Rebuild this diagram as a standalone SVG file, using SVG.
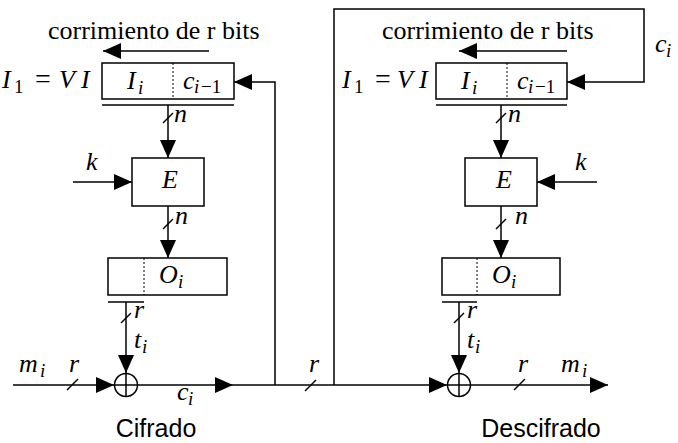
<svg xmlns="http://www.w3.org/2000/svg" width="678" height="443" viewBox="0 0 678 443">
<defs>
<marker id="ah" markerUnits="userSpaceOnUse" markerWidth="18" markerHeight="16" refX="18" refY="8" orient="auto">
<path d="M0,0 L18,8 L0,16 z" fill="#000"/>
</marker>
</defs>
<g id="connectors" stroke="#000" stroke-width="1.5" fill="none">
<g marker-end="url(#ah)">
<line x1="209" y1="51" x2="103" y2="51"/>
<line x1="168" y1="105" x2="168" y2="158"/>
<line x1="73" y1="182" x2="132" y2="182"/>
<line x1="168" y1="206" x2="168" y2="258"/>
<line x1="126" y1="302" x2="126" y2="373"/>
<line x1="13" y1="385" x2="114" y2="385"/>
<line x1="138" y1="385" x2="233" y2="385"/>
<line x1="233" y1="385" x2="447" y2="385"/>
<polyline points="275,385 275,82 234,82"/>
<polyline points="334,385 334,9 644,9 644,82 567,82"/>
<line x1="567" y1="51" x2="459" y2="51"/>
<line x1="501" y1="105" x2="501" y2="158"/>
<line x1="597" y1="182" x2="537" y2="182"/>
<line x1="501" y1="206" x2="501" y2="258"/>
<line x1="459" y1="302" x2="459" y2="373"/>
<line x1="471" y1="385" x2="608" y2="385"/>
</g>
<line x1="163" y1="123" x2="173" y2="113"/>
<line x1="163" y1="229" x2="173" y2="219"/>
<line x1="121" y1="323" x2="131" y2="313"/>
<line x1="67" y1="390" x2="78" y2="379"/>
<line x1="305" y1="391" x2="316" y2="380"/>
<line x1="496" y1="123" x2="506" y2="113"/>
<line x1="496" y1="229" x2="506" y2="219"/>
<line x1="454" y1="323" x2="464" y2="313"/>
<line x1="514" y1="390" x2="525" y2="379"/>
</g>
<g id="reg-left">
<rect x="102" y="63" width="132" height="36" fill="#fff" stroke="#000" stroke-width="1.5"/>
<line x1="173" y1="63" x2="173" y2="99" stroke="#000" stroke-width="1" stroke-dasharray="2,2"/>
<line x1="102" y1="105" x2="234" y2="105" stroke="#000" stroke-width="1.5"/>
<text x="127" y="89" font-family="Liberation Serif" font-style="italic" font-size="26">I</text>
<text x="138" y="94" font-family="Liberation Serif" font-style="italic" font-size="19">i</text>
<text x="183" y="89" font-family="Liberation Serif" font-style="italic" font-size="26">c</text>
<text x="194" y="93" font-family="Liberation Serif" font-style="italic" font-size="19">i</text>
<text x="201" y="93" font-family="Liberation Serif" font-size="19">&#8722;1</text>
</g>
<g id="iv-left">
<text x="2" y="88" font-family="Liberation Serif" font-style="italic" font-size="26">I</text>
<text x="14" y="93" font-family="Liberation Serif" font-size="19">1</text>
<text x="35" y="88" font-family="Liberation Serif" font-size="28">=</text>
<text x="59" y="88" font-family="Liberation Serif" font-style="italic" font-size="26">V</text>
<text x="81" y="88" font-family="Liberation Serif" font-style="italic" font-size="26">I</text>
</g>
<g id="shift-left"><text x="48" y="39" font-family="Liberation Serif" font-size="26">corrimiento de r bits</text></g>
<g id="E-left">
<rect x="132" y="158" width="72" height="48" fill="#fff" stroke="#000" stroke-width="1.5"/>
<text x="162" y="188" font-family="Liberation Serif" font-style="italic" font-size="26">E</text>
</g>
<g id="O-left">
<rect x="108" y="258" width="119" height="37" fill="#fff" stroke="#000" stroke-width="1.5"/>
<line x1="144" y1="258" x2="144" y2="295" stroke="#000" stroke-width="1" stroke-dasharray="2,2"/>
<line x1="108" y1="302" x2="144" y2="302" stroke="#000" stroke-width="1.5"/>
<text x="159" y="283" font-family="Liberation Serif" font-style="italic" font-size="26">O</text>
<text x="178" y="288" font-family="Liberation Serif" font-style="italic" font-size="19">i</text>
</g>
<g id="xor-left" stroke="#000" stroke-width="1.5" fill="none">
<circle cx="126" cy="385" r="11.5"/>
<line x1="126" y1="373.5" x2="126" y2="396.5"/>
<line x1="114.5" y1="385" x2="137.5" y2="385"/>
</g>
<g id="labels-left">
<text x="174" y="122" font-family="Liberation Serif" font-style="italic" font-size="26">n</text>
<text x="86" y="170" font-family="Liberation Serif" font-style="italic" font-size="26">k</text>
<text x="175" y="224" font-family="Liberation Serif" font-style="italic" font-size="26">n</text>
<text x="134" y="318" font-family="Liberation Serif" font-style="italic" font-size="26">r</text>
<text x="134" y="348" font-family="Liberation Serif" font-style="italic" font-size="26">t</text>
<text x="142" y="353" font-family="Liberation Serif" font-style="italic" font-size="19">i</text>
<text x="19" y="372" font-family="Liberation Serif" font-style="italic" font-size="26">m</text>
<text x="40" y="377" font-family="Liberation Serif" font-style="italic" font-size="19">i</text>
<text x="69" y="372" font-family="Liberation Serif" font-style="italic" font-size="26">r</text>
<text x="177" y="400" font-family="Liberation Serif" font-style="italic" font-size="26">c</text>
<text x="188" y="405" font-family="Liberation Serif" font-style="italic" font-size="19">i</text>
<text x="309" y="372" font-family="Liberation Serif" font-style="italic" font-size="26">r</text>
<text x="156" y="437" font-family="Liberation Sans" font-size="25" text-anchor="middle">Cifrado</text>
</g>
<g id="reg-right">
<rect x="436" y="63" width="131" height="36" fill="#fff" stroke="#000" stroke-width="1.5"/>
<line x1="507" y1="63" x2="507" y2="99" stroke="#000" stroke-width="1" stroke-dasharray="2,2"/>
<line x1="436" y1="105" x2="567" y2="105" stroke="#000" stroke-width="1.5"/>
<text x="461" y="89" font-family="Liberation Serif" font-style="italic" font-size="26">I</text>
<text x="472" y="94" font-family="Liberation Serif" font-style="italic" font-size="19">i</text>
<text x="517" y="89" font-family="Liberation Serif" font-style="italic" font-size="26">c</text>
<text x="528" y="93" font-family="Liberation Serif" font-style="italic" font-size="19">i</text>
<text x="535" y="93" font-family="Liberation Serif" font-size="19">&#8722;1</text>
</g>
<g id="iv-right">
<text x="342" y="88" font-family="Liberation Serif" font-style="italic" font-size="26">I</text>
<text x="354" y="93" font-family="Liberation Serif" font-size="19">1</text>
<text x="375" y="88" font-family="Liberation Serif" font-size="28">=</text>
<text x="397" y="88" font-family="Liberation Serif" font-style="italic" font-size="26">V</text>
<text x="419" y="88" font-family="Liberation Serif" font-style="italic" font-size="26">I</text>
</g>
<g id="shift-right"><text x="382" y="39" font-family="Liberation Serif" font-size="26">corrimiento de r bits</text></g>
<g id="E-right">
<rect x="465" y="158" width="72" height="48" fill="#fff" stroke="#000" stroke-width="1.5"/>
<text x="496" y="188" font-family="Liberation Serif" font-style="italic" font-size="26">E</text>
</g>
<g id="O-right">
<rect x="442" y="258" width="118" height="37" fill="#fff" stroke="#000" stroke-width="1.5"/>
<line x1="477" y1="258" x2="477" y2="295" stroke="#000" stroke-width="1" stroke-dasharray="2,2"/>
<line x1="442" y1="302" x2="477" y2="302" stroke="#000" stroke-width="1.5"/>
<text x="492" y="283" font-family="Liberation Serif" font-style="italic" font-size="26">O</text>
<text x="511" y="288" font-family="Liberation Serif" font-style="italic" font-size="19">i</text>
</g>
<g id="xor-right" stroke="#000" stroke-width="1.5" fill="none">
<circle cx="459" cy="385" r="11.5"/>
<line x1="459" y1="373.5" x2="459" y2="396.5"/>
<line x1="447.5" y1="385" x2="470.5" y2="385"/>
</g>
<g id="labels-right">
<text x="655" y="52" font-family="Liberation Serif" font-style="italic" font-size="26">c</text>
<text x="666" y="57" font-family="Liberation Serif" font-style="italic" font-size="19">i</text>
<text x="508" y="122" font-family="Liberation Serif" font-style="italic" font-size="26">n</text>
<text x="575" y="170" font-family="Liberation Serif" font-style="italic" font-size="26">k</text>
<text x="515" y="224" font-family="Liberation Serif" font-style="italic" font-size="26">n</text>
<text x="467" y="318" font-family="Liberation Serif" font-style="italic" font-size="26">r</text>
<text x="467" y="348" font-family="Liberation Serif" font-style="italic" font-size="26">t</text>
<text x="475" y="353" font-family="Liberation Serif" font-style="italic" font-size="19">i</text>
<text x="518" y="372" font-family="Liberation Serif" font-style="italic" font-size="26">r</text>
<text x="561" y="372" font-family="Liberation Serif" font-style="italic" font-size="26">m</text>
<text x="582" y="377" font-family="Liberation Serif" font-style="italic" font-size="19">i</text>
<text x="541" y="437" font-family="Liberation Sans" font-size="25" text-anchor="middle">Descifrado</text>
</g>
</svg>
